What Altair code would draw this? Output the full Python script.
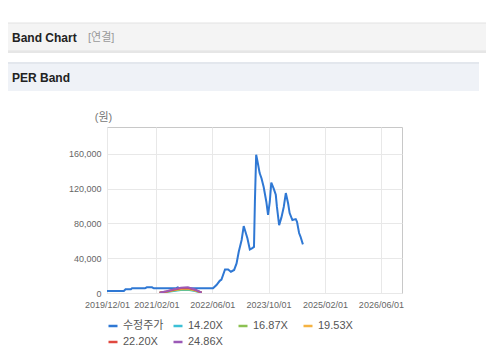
import altair as alt
import pandas as pd

# ---- data ----
price_dates = [
    "2019-12-01", "2020-04-25", "2020-05-10", "2020-06-25", "2020-07-05", "2020-10-25",
    "2020-11-10", "2020-12-25", "2021-01-10", "2021-07-20", "2021-08-05", "2021-08-25",
    "2022-05-25", "2022-06-07", "2022-07-07", "2022-08-04", "2022-08-19", "2022-09-19",
    "2022-10-16", "2022-11-09", "2022-12-07", "2022-12-28", "2023-01-16", "2023-02-10",
    "2023-02-28", "2023-03-09", "2023-04-01", "2023-04-22", "2023-05-10", "2023-05-28",
    "2023-06-05", "2023-06-16", "2023-07-01", "2023-07-16", "2023-08-01", "2023-08-20",
    "2023-09-12", "2023-09-27", "2023-10-12", "2023-10-25", "2023-11-15", "2023-12-03",
    "2023-12-13", "2024-01-01", "2024-01-21", "2024-02-10", "2024-02-28", "2024-03-19",
    "2024-04-01", "2024-04-25", "2024-05-24", "2024-06-04", "2024-06-22", "2024-07-04",
    "2024-07-25",
]
price_values = [
    2300, 2300, 4300, 4300, 5400, 5400,
    6600, 6600, 5400, 5400, 6600, 5400,
    5400, 5400, 9200, 14000, 15500, 27000,
    27000, 24500, 26500, 34000, 47500, 61000,
    77000, 73000, 63000, 50000, 51400, 53000,
    105000, 159000, 149000, 138000, 132000, 122000,
    105000, 90000, 105000, 127000, 120000, 113000,
    99000, 78000, 87000, 99000, 115000, 103000,
    92000, 84000, 85000, 82000, 69000, 65000,
    56000,
]

band_dates = ["2021-03-01", "2021-05-01", "2021-07-01", "2021-09-01",
              "2021-11-01", "2022-01-01", "2022-03-01"]
band_1420 = [230, 1140, 2400, 3430, 3710, 2280, 290]
band_1687 = [270, 1360, 2850, 4070, 4410, 2710, 340]
band_1953 = [310, 1570, 3300, 4710, 5110, 3140, 390]
band_2220 = [360, 1790, 3750, 5360, 5800, 3570, 450]
band_2486 = [400, 2000, 4200, 6000, 6500, 4000, 500]

series_names = ["수정주가", "14.20X", "16.87X", "19.53X", "22.20X", "24.86X"]
series_colors = ["#2f78d4", "#3cc0d6", "#8cc152", "#f5b342", "#e0483f", "#9b59b6"]

y_ticks = [0, 40000, 80000, 120000, 160000]
x_ticks = [(2019, 12), (2021, 2), (2022, 6), (2023, 10), (2025, 2), (2026, 6)]

# ---- build table ----
rows = []
for d, v in zip(price_dates, price_values):
    rows.append({"date": d, "value": v, "series": series_names[0]})
for name, vals in zip(series_names[1:], [band_1420, band_1687, band_1953, band_2220, band_2486]):
    for d, v in zip(band_dates, vals):
        rows.append({"date": d, "value": v, "series": name})
df = pd.DataFrame(rows)

FONT = "Liberation Sans, Noto Sans CJK KR"
one = pd.DataFrame({"k": [0]})

lines = alt.Chart(df).mark_line(strokeWidth=2, clip=True).encode(
    x=alt.X(
        "date:T",
        scale=alt.Scale(
            type="utc",
            domain=[alt.DateTime(year=2019, month=12, date=1, utc=True),
                    alt.DateTime(year=2026, month=12, date=1, utc=True)],
        ),
        axis=alt.Axis(
            values=[alt.DateTime(year=y, month=m, date=1, utc=True) for y, m in x_ticks],
            labelExpr="utcFormat(datum.value, '%Y/%m/%d')",
            title=None, domain=False, ticks=False,
            labelFontSize=9, labelColor="#666666", labelFont=FONT, labelPadding=7,
            labelOverlap=False, labelFlush=False, gridColor="#e8e8e8",
        ),
    ),
    y=alt.Y(
        "value:Q",
        scale=alt.Scale(domain=[0, 191000], nice=False, zero=True),
        axis=alt.Axis(
            values=y_ticks, format=",d", title="(원)", titleAngle=0,
            titleX=-4, titleY=-10, titleAlign="center", titleBaseline="middle",
            titleFontSize=11, titleFontWeight="normal", titleColor="#777777", titleFont=FONT,
            domain=False, ticks=False, labelFontSize=9, labelColor="#666666",
            labelFont=FONT, labelPadding=6, gridColor="#e8e8e8",
        ),
    ),
    color=alt.Color(
        "series:N",
        sort=series_names,
        scale=alt.Scale(domain=series_names, range=series_colors),
        legend=alt.Legend(
            title=None, orient="none", legendX=0, legendY=193, direction="horizontal",
            columns=4, symbolType="stroke", symbolSize=81, symbolStrokeWidth=2.5,
            labelFontSize=11, labelColor="#555555", labelFont=FONT, gridAlign="all",
            columnPadding=4, rowPadding=5, labelOffset=4, padding=0, offset=0,
        ),
    ),
)

bar1 = alt.Chart(one).mark_rect(color="#f4f4f4", stroke="#e2e2e2", strokeWidth=1).encode(
    x=alt.value(-100), x2=alt.value(390), y=alt.value(-104), y2=alt.value(-76))
shadow = alt.Chart(one).mark_rect(color="#e6e6e6").encode(
    x=alt.value(-100), x2=alt.value(390), y=alt.value(-76), y2=alt.value(-74))
bar2 = alt.Chart(one).mark_rect(color="#eff2f7").encode(
    x=alt.value(-100), x2=alt.value(372), y=alt.value(-64), y2=alt.value(-36))
bar2top = alt.Chart(one).mark_rect(color="#e3e7ed").encode(
    x=alt.value(-100), x2=alt.value(372), y=alt.value(-65), y2=alt.value(-63))

t1 = alt.Chart(one).mark_text(text="Band Chart", align="left", baseline="middle",
                              fontWeight="bold", fontSize=12, font=FONT, color="#222222").encode(
    x=alt.value(-95), y=alt.value(-89))
t2 = alt.Chart(one).mark_text(text="[연결]", align="left", baseline="middle",
                              fontSize=11, font=FONT, color="#999999").encode(
    x=alt.value(-19), y=alt.value(-89))
t3 = alt.Chart(one).mark_text(text="PER Band", align="left", baseline="middle",
                              fontWeight="bold", fontSize=12, font=FONT, color="#222222").encode(
    x=alt.value(-95), y=alt.value(-49))

chart = alt.layer(bar1, shadow, bar2, bar2top, t1, t2, t3, lines).properties(
    width=295, height=166,
    autosize=alt.AutoSizeParams(type="none"),
    padding={"left": 99, "top": 119, "right": 84, "bottom": 55},
    background="white",
).configure_view(stroke="#c8c8c8", strokeWidth=1)

chart.save("out.html", embed_options={"renderer": "svg", "actions": False})
